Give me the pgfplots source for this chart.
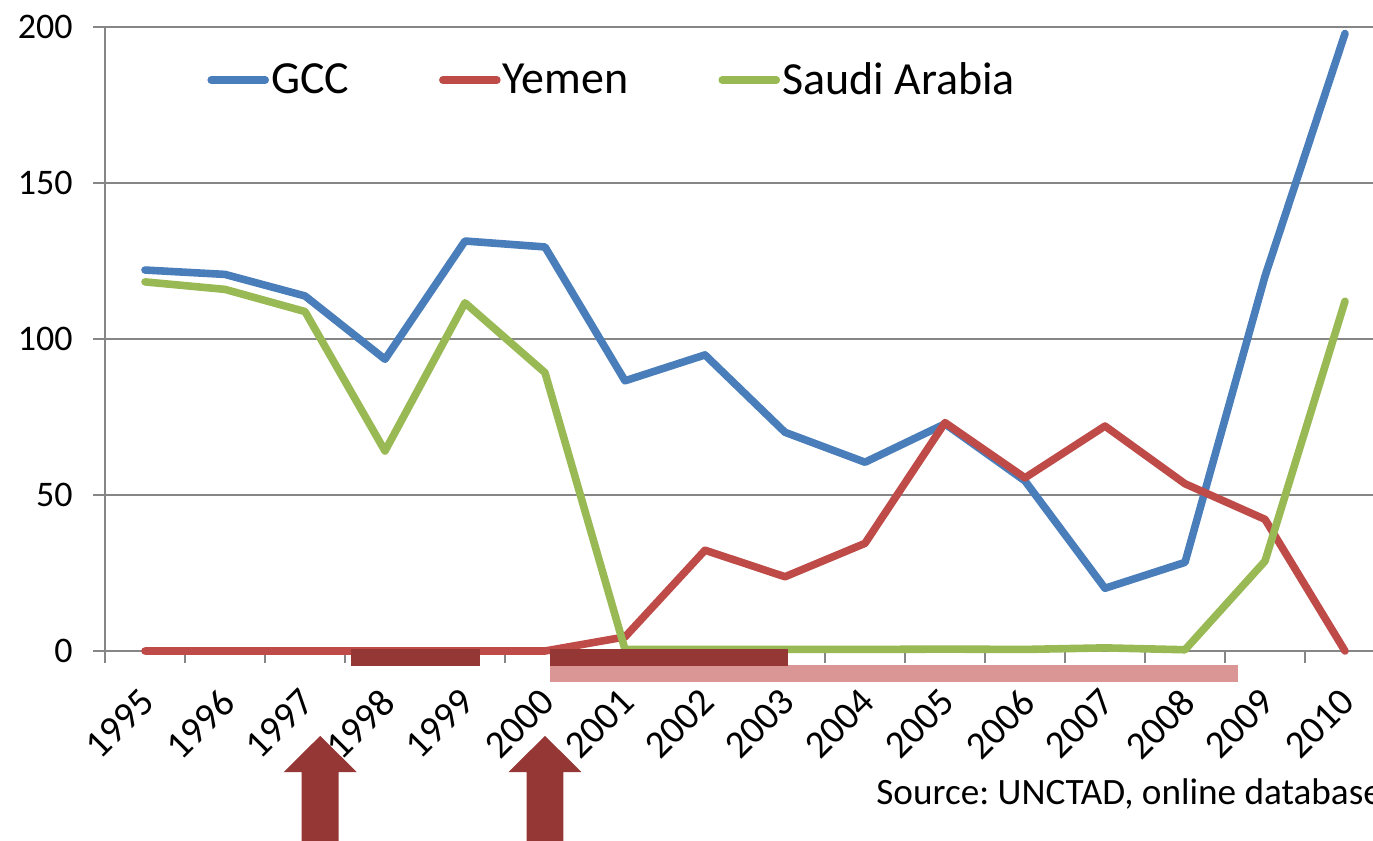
\documentclass[border=0pt]{standalone}
\usepackage{fontspec}
\setmainfont{Carlito}
\usepackage{pgfplots}
\pgfplotsset{compat=1.18}
\definecolor{gcc}{HTML}{4A7EBB}
\definecolor{yem}{HTML}{BE4B48}
\definecolor{sau}{HTML}{98B954}
\definecolor{dred}{HTML}{953735}
\definecolor{pinkbar}{HTML}{D99694}
\definecolor{axgray}{HTML}{868686}
\frenchspacing
\begin{document}
\begin{tikzpicture}
\begin{scope}
\clip (-52.5pt,-95pt) rectangle (634pt,325.5pt);
\begin{axis}[
  at={(0,0)}, anchor=south west,
  scale only axis, width=640pt, height=312pt,
  xmin=-0.5, xmax=15.5, ymin=0, ymax=200,
  clip=false,
  axis x line*=bottom, axis y line*=left,
  axis line style={-, axgray, line width=1pt},
  xtick={0,...,15},
  xticklabels={1995,1996,1997,1998,1999,2000,2001,2002,2003,2004,2005,2006,2007,2008,2009,2010},
  minor xtick={-0.5,0.5,...,15.5},
  ytick={0,50,100,150,200},
  ymajorgrids, grid style={axgray, line width=1pt},
  major x tick style={draw=none},
  minor x tick style={axgray, line width=1pt},
  major y tick style={axgray, line width=1pt},
  tick align=outside,
  major tick length=6pt, minor tick length=6pt,
  /pgf/number format/assume math mode=true,
  xticklabel style={font=\fontsize{19.5}{23}\selectfont, xshift=-3.3pt, yshift=-11.5pt, rotate=45, anchor=north east, inner sep=0pt},
  yticklabel style={font=\fontsize{18}{20}\selectfont, anchor=east, inner sep=0pt, xshift=-10pt},
  legend columns=3,
  legend style={at={(0.0797,0.915)}, anchor=west, draw=none, fill=none, inner sep=0pt,
    font=\fontsize{23}{26}\selectfont,
    nodes={inner sep=1pt},
    /tikz/every even column/.append style={column sep=44pt}},
  legend image code/.code={\draw[#1, line width=3.8pt, line cap=round] (0pt,0pt) -- (27pt,0pt);},
  every axis plot/.append style={line width=3.8pt, line cap=round, line join=round},
]
\addplot[gcc] coordinates {(0,122.1) (1,120.7) (2,113.8) (3,93.5) (4,131.4) (5,129.5) (6,86.6) (7,94.9) (8,70.1) (9,60.5) (10,72.8) (11,54.5) (12,20.1) (13,28.4) (14,120.1) (15,197.9)};
\addlegendentry{GCC}
\addplot[yem] coordinates {(0,0) (1,0) (2,0) (3,0) (4,0) (5,0) (6,4.5) (7,32.3) (8,23.8) (9,34.5) (10,73.2) (11,55.5) (12,72.1) (13,53.6) (14,42.2) (15,0)};
\addlegendentry{Yemen}
\addplot[sau] coordinates {(0,118.3) (1,115.9) (2,108.8) (3,64.1) (4,111.6) (5,89.2) (6,0.5) (7,0.5) (8,0.5) (9,0.5) (10,0.6) (11,0.5) (12,1.0) (13,0.4) (14,28.8) (15,112.1)};
\addlegendentry{Saudi Arabia}
\addplot[forget plot, draw=none, line width=0pt, fill=pinkbar] coordinates {(5.06,-4.5) (13.66,-4.5) (13.66,-9.9) (5.06,-9.9)} --cycle;
\addplot[forget plot, draw=none, line width=0pt, fill=dred] coordinates {(2.575,0.64) (4.19,0.64) (4.19,-4.8) (2.575,-4.8)} --cycle;
\addplot[forget plot, draw=none, line width=0pt, fill=dred] coordinates {(5.06,0.64) (8.04,0.64) (8.04,-4.8) (5.06,-4.8)} --cycle;
\addplot[forget plot, draw=none, line width=0pt, fill=dred] coordinates {(2.19,-27.2) (2.646,-38.8) (2.421,-38.8) (2.421,-66) (1.959,-66) (1.959,-38.8) (1.734,-38.8)} --cycle;
\addplot[forget plot, draw=none, line width=0pt, fill=dred] coordinates {(5.0,-27.2) (5.456,-38.8) (5.231,-38.8) (5.231,-66) (4.769,-66) (4.769,-38.8) (4.544,-38.8)} --cycle;
\end{axis}
\node[anchor=base west, inner sep=0pt, font=\fontsize{18.6}{21}\selectfont] at (385.5pt,-77pt) {Source: UNCTAD, online database};
\end{scope}
\pgfresetboundingbox
\path[use as bounding box] (-52.5pt,-95pt) rectangle (634pt,325.5pt);
\end{tikzpicture}
\end{document}
